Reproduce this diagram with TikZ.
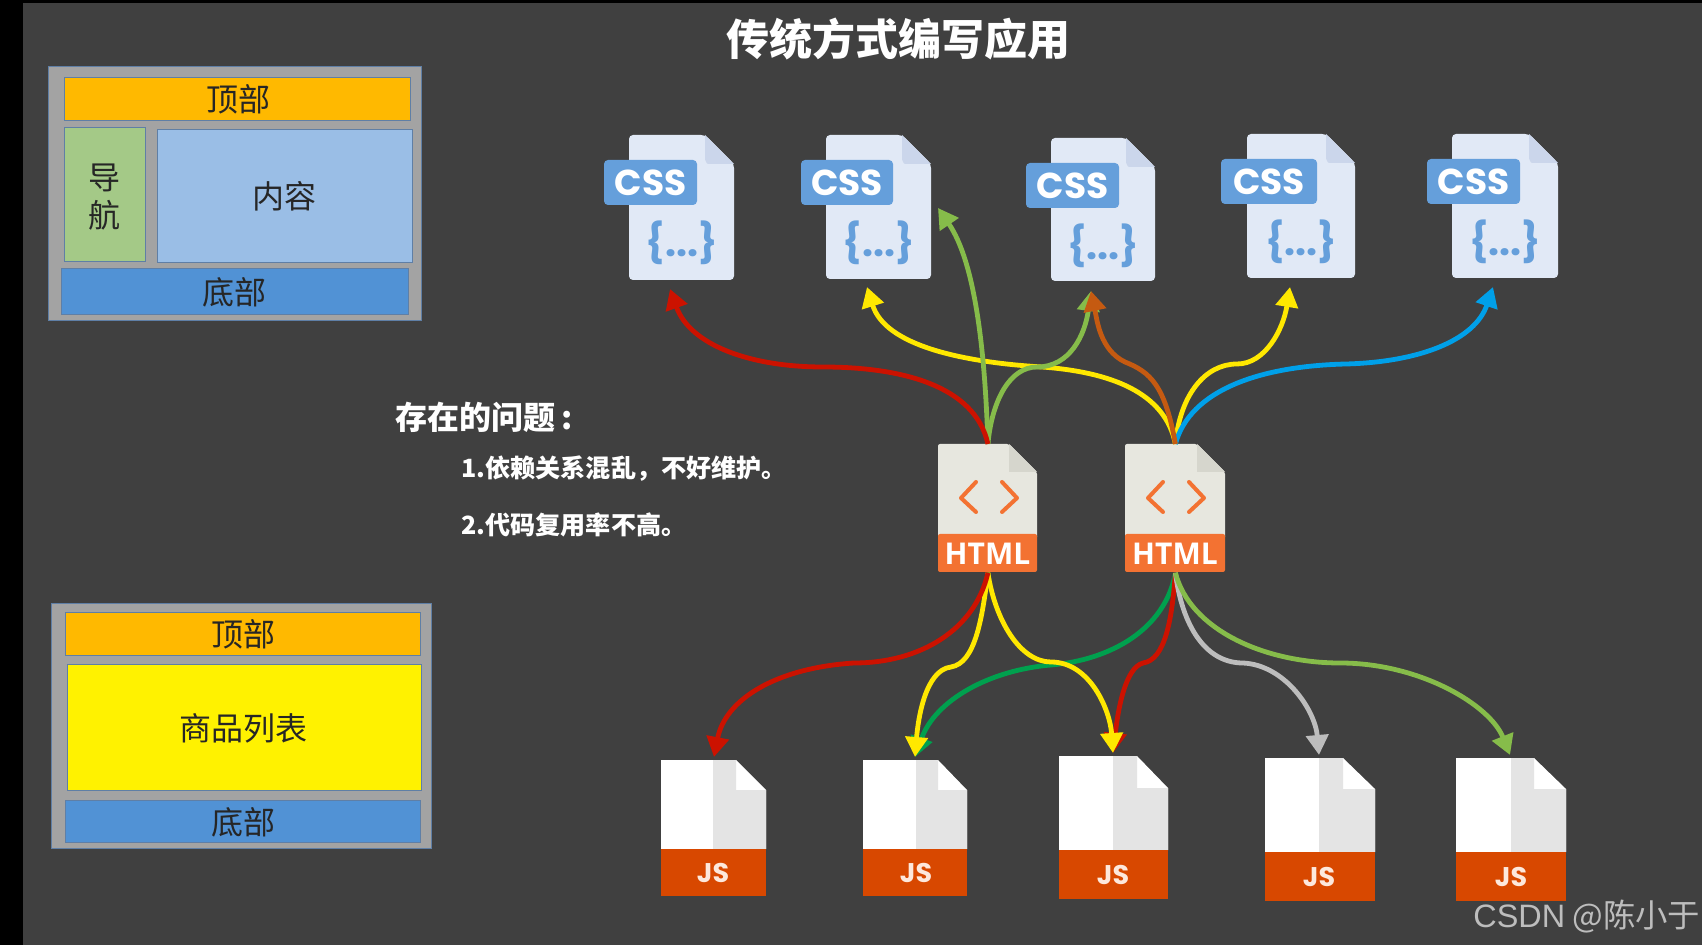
\documentclass[tikz,border=0pt]{standalone}
\usepackage{fontspec}
\usetikzlibrary{arrows.meta,shapes.geometric}
\newfontfamily\cjk{Noto Sans CJK SC}
\newfontfamily\popp{Poppins}
\newfontfamily\opens{Open Sans}
\newfontfamily\lib{Liberation Sans}
\definecolor{bgc}{HTML}{404040}
\definecolor{framec}{HTML}{A3A3A3}
\definecolor{edgec}{HTML}{5F7FA6}
\definecolor{topc}{HTML}{FFB900}
\definecolor{navc}{HTML}{A4C987}
\definecolor{contc}{HTML}{9ABEE6}
\definecolor{footc}{HTML}{5192D5}
\definecolor{listc}{HTML}{FFF200}
\definecolor{cssdoc}{HTML}{E1E9F6}
\definecolor{cssfold}{HTML}{CBD6EB}
\definecolor{cssblue}{HTML}{659FDB}
\definecolor{htmldoc}{HTML}{E7E7DF}
\definecolor{htmlfold}{HTML}{D6D6CD}
\definecolor{htmlband}{HTML}{F37232}
\definecolor{jsgrey}{HTML}{E4E4E4}
\definecolor{jsband}{HTML}{D84800}
\definecolor{jstext}{HTML}{FDE8DC}
\definecolor{ared}{HTML}{CC1200}
\definecolor{ayel}{HTML}{FFE800}
\definecolor{agrn}{HTML}{86BC4A}
\definecolor{dgrn}{HTML}{00A04E}
\definecolor{aorg}{HTML}{C55A11}
\definecolor{ablu}{HTML}{00A0E9}
\definecolor{agry}{HTML}{BDBDBD}
\tikzset{
  px/.style={x=0.5pt,y=-0.5pt},
  labeltxt/.style={font=\cjk\fontsize{16}{18}\selectfont,text=black!85,inner sep=0pt},
  frameb/.style={draw=edgec,line width=0.6pt,fill=framec},
  cell/.style={draw=edgec,line width=0.6pt},
  titletxt/.style={font=\cjk\bfseries\fontsize{21.5}{24}\selectfont,text=white,inner sep=0pt},
  headtxt/.style={font=\cjk\bfseries\fontsize{16}{18}\selectfont,text=white,inner sep=0pt,anchor=west},
  itemtxt/.style={font=\cjk\bfseries\fontsize{12.55}{15}\selectfont,text=white,inner sep=0pt,anchor=west},
  marktxt/.style={font=\cjk\fontsize{16.2}{18}\selectfont,text=agry,inner sep=0pt},
  cssword/.style={font=\popp\bfseries\fontsize{18}{20}\selectfont,text=white,inner sep=0pt},
  braces/.style={font=\popp\bfseries\fontsize{19.5}{21}\selectfont,text=cssblue,inner sep=0pt},
  htmlword/.style={font=\opens\bfseries\fontsize{15}{18}\selectfont,text=white,inner sep=0pt},
  jsword/.style={font=\popp\bfseries\fontsize{13.5}{15}\selectfont,text=jstext,inner sep=0pt},
  link/.style={line width=2.4pt,-{Triangle[length=10pt,width=11pt]}},
}
% name, left, top, width, height, badge left, badge width
\newcommand{\cssfile}[7]{%
  \node[inner sep=0pt,minimum width=#4*0.5pt,minimum height=#5*0.5pt,anchor=north west] (#1) at (#2,#3) {};
  \fill[cssdoc,rounded corners=2pt] (#2,#3) -- ({#2+#4-29},#3) -- ({#2+#4},{#3+29}) -- ({#2+#4},{#3+#5}) -- (#2,{#3+#5}) -- cycle;
  \fill[cssfold] ({#2+#4-29},#3) -- ({#2+#4},{#3+29}) -- ({#2+#4-26},{#3+29}) to[out=180,in=90] ({#2+#4-29},{#3+25}) -- cycle;
  \fill[cssblue,rounded corners=2pt] (#6,{#3+25}) rectangle ({#6+#7},{#3+70});
  \node[cssword] (#1w) at ({#6+#7/2},{#3+48}) {CSS};
  \node[braces] (#1b) at ({#2+#4/2},{#3+108}) {\{...\}};
}
% name, left, top, width, height
\newcommand{\htmlfile}[5]{%
  \node[inner sep=0pt,minimum width=#4*0.5pt,minimum height=#5*0.5pt,anchor=north west] (#1) at (#2,#3) {};
  \fill[htmldoc,rounded corners=1pt] (#2,#3) -- ({#2+#4-28},#3) -- ({#2+#4},{#3+28}) -- ({#2+#4},{#3+95}) -- (#2,{#3+95}) -- cycle;
  \fill[htmlfold] ({#2+#4-28},#3) -- ({#2+#4},{#3+28}) -- ({#2+#4-28},{#3+28}) -- cycle;
  \fill[htmlband,rounded corners=1pt] (#2,{#3+90}) -- ({#2+#4},{#3+90}) -- ({#2+#4},{#3+#5}) -- (#2,{#3+#5}) -- cycle;
  \draw[htmlband,line width=2pt,line cap=round,line join=round]
    ({#2+38},{#3+38}) -- ({#2+23},{#3+54}) -- ({#2+38},{#3+68})
    ({#2+64},{#3+38}) -- ({#2+79},{#3+54}) -- ({#2+64},{#3+68});
  \node[htmlword] (#1w) at ({#2+#4/2},{#3+110}) {HTML};
}
% name, left, right, top, bottom, band top, split x, fold x, fold y
\newcommand{\jsfile}[9]{%
  \node[inner sep=0pt,minimum width={(#3-#2)*0.5pt},minimum height={(#5-#4)*0.5pt},anchor=north west] (#1) at (#2,#4) {};
  \fill[white] (#2,#4) -- (#8,#4) -- (#3,#9) -- (#3,#6) -- (#2,#6) -- cycle;
  \fill[jsgrey] (#7,#4) -- (#8,#4) -- (#8,#9) -- (#3,#9) -- (#3,#6) -- (#7,#6) -- cycle;
  \fill[jsband] (#2,#6) rectangle (#3,#5);
  \node[jsword] (#1w) at (#7,{(#5+#6)/2}) {JS};
}
\begin{document}
\begin{tikzpicture}[px]
\useasboundingbox (0,0) rectangle (1702,945);
\fill[black] (0,0) rectangle (1702,945);
\fill[bgc] (23,3) rectangle (1702,945);

% layout box 1
\node[frameb,minimum width=186.5pt,minimum height=127pt,inner sep=0pt,anchor=north west] (frameA) at (48,66) {};
\node[cell,fill=topc,minimum width=173pt,minimum height=21.5pt,inner sep=0pt,anchor=north west] (topA) at (64,77) {};
\node[labeltxt] (topAt) at (238,99) {顶部};
\node[cell,fill=navc,minimum width=40.5pt,minimum height=67pt,inner sep=0pt,anchor=north west] (navA) at (64,127) {};
\node[labeltxt,align=center] (navAt) at (104,197) {导\\[1pt]航};
\node[cell,fill=contc,minimum width=127.5pt,minimum height=66.5pt,inner sep=0pt,anchor=north west] (contA) at (157,129) {};
\node[labeltxt] (contAt) at (284,196) {内容};
\node[cell,fill=footc,minimum width=173.5pt,minimum height=23pt,inner sep=0pt,anchor=north west] (footA) at (61,268) {};
\node[labeltxt] (footAt) at (234,292) {底部};

% layout box 2
\node[frameb,minimum width=190pt,minimum height=122.5pt,inner sep=0pt,anchor=north west] (frameB) at (51,603) {};
\node[cell,fill=topc,minimum width=177.5pt,minimum height=21.5pt,inner sep=0pt,anchor=north west] (topB) at (65,612) {};
\node[labeltxt] (topBt) at (243,634) {顶部};
\node[cell,fill=listc,minimum width=177pt,minimum height=63pt,inner sep=0pt,anchor=north west] (listB) at (67,664) {};
\node[labeltxt] (listBt) at (243,728) {商品列表};
\node[cell,fill=footc,minimum width=177.5pt,minimum height=21pt,inner sep=0pt,anchor=north west] (footB) at (65,800) {};
\node[labeltxt] (footBt) at (243,822) {底部};

% title and text
\node[titletxt] (title) at (898,39) {传统方式编写应用};
\node[headtxt] (head) at (395,417) {存在的问题\hspace{3pt}:};
\node[itemtxt] (item1) at (461,469) {1.依赖关系混乱，不好维护。};
\node[itemtxt] (item2) at (461,525) {2.代码复用率不高。};

% files
\cssfile{c1}{629}{135}{105}{145}{604}{93}
\cssfile{c2}{826}{135}{105}{144}{801}{92}
\cssfile{c3}{1051}{138}{104}{143}{1026}{93}
\cssfile{c4}{1247}{134}{108}{144}{1221}{96}
\cssfile{c5}{1452}{134}{106}{144}{1427}{93}
\htmlfile{h1}{938}{444}{99}{128}
\htmlfile{h2}{1125}{444}{100}{128}
\jsfile{j1}{661}{766}{760}{896}{849}{713}{736}{790}
\jsfile{j2}{863}{967}{760}{896}{849}{916}{938}{790}
\jsfile{j3}{1059}{1168}{756}{899}{850}{1113}{1137}{788}
\jsfile{j4}{1265}{1375}{758}{901}{852}{1319}{1343}{789}
\jsfile{j5}{1456}{1566}{758}{901}{852}{1511}{1534}{789}

% connector free ends
\coordinate (c1in) at (670,289);
\coordinate (c2in) at (867,287);
\coordinate (c2sd) at (938,208);
\coordinate (c3in) at (1091,291);
\coordinate (c4in) at (1290,287);
\coordinate (c5in) at (1493,287);
\coordinate (j1in) at (714,757);
\coordinate (j2in) at (915,757);
\coordinate (j3in) at (1113,753);
\coordinate (j4in) at (1319,755);
\coordinate (j5in) at (1510,755);

% upward connectors
\draw[link,ayel] (h2.north) .. controls (1165,392) and (1110,372) .. (1042,367) .. controls (960,362) and (885,345) .. (c2in);
\draw[link,agrn] (h1.north) .. controls (985,350) and (975,262) .. (c2sd);
\draw[link,agrn] (h1.north) .. controls (992,400) and (1010,367) .. (1037,367) .. controls (1070,367) and (1085,335) .. (c3in);
\draw[link,ared] (h1.north) .. controls (975,385) and (900,367) .. (823,367) .. controls (750,367) and (690,345) .. (c1in);
\draw[link,ayel] (h2.north) .. controls (1180,395) and (1205,364) .. (1237,364) .. controls (1265,364) and (1283,330) .. (c4in);
\draw[link,ablu] (h2.north) .. controls (1190,390) and (1260,366) .. (1346,364) .. controls (1420,362) and (1475,340) .. (c5in);
\draw[link,aorg] (h2.north) .. controls (1165,385) and (1150,372) .. (1125,362) .. controls (1100,350) and (1097,320) .. (c3in);

% downward connectors
\draw[link,dgrn] (h2.south) .. controls (1165,630) and (1110,660) .. (1051,665) .. controls (990,670) and (935,700) .. (j2in);
\draw[link,ared] (h2.south) .. controls (1172,620) and (1165,660) .. (1143,663) .. controls (1125,668) and (1118,710) .. (j3in);
\draw[link,agry] (h2.south) .. controls (1182,625) and (1205,663) .. (1243,663) .. controls (1285,665) and (1315,710) .. (j4in);
\draw[link,agrn] (h2.south) .. controls (1190,630) and (1265,663) .. (1340,663) .. controls (1420,663) and (1490,705) .. (j5in);
\draw[link,ayel] (h1.south) .. controls (982,620) and (975,663) .. (951,667) .. controls (925,670) and (918,720) .. (j2in);
\draw[link,ayel] (h1.south) .. controls (995,620) and (1020,662) .. (1051,662) .. controls (1090,662) and (1110,710) .. (j3in);
\draw[link,ared] (h1.south) .. controls (975,630) and (920,663) .. (854,663) .. controls (775,668) and (725,700) .. (j1in);

% watermark
\node[marktxt,anchor=west] (mark) at (1473,917) {{\lib CSDN} @陈小于};
\end{tikzpicture}
\end{document}
